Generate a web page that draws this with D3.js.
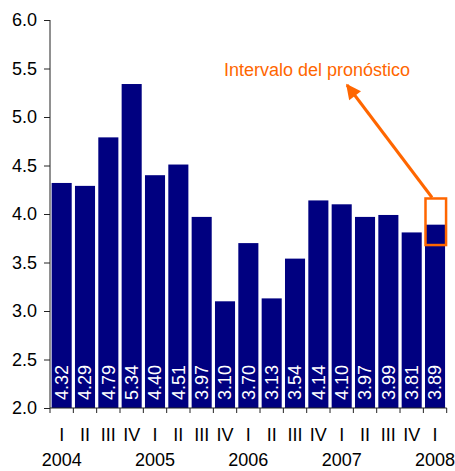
<!DOCTYPE html>
<html>
<head>
<meta charset="utf-8">
<script src="https://cdn.jsdelivr.net/npm/d3@7"></script>
<style>
  html, body { margin: 0; padding: 0; background: #fff; }
  svg { display: block; font-family: "Liberation Sans", Arial, sans-serif; }
</style>
</head>
<body>
<svg id="chart" width="455" height="471"></svg>
<script>
// ---- data ----
const quarters = ["I","II","III","IV","I","II","III","IV","I","II","III","IV","I","II","III","IV","I"];
const years = ["2004","2004","2004","2004","2005","2005","2005","2005","2006","2006","2006","2006","2007","2007","2007","2007","2008"];
const values = [4.32, 4.29, 4.79, 5.34, 4.40, 4.51, 3.97, 3.10, 3.70, 3.13, 3.54, 4.14, 4.10, 3.97, 3.99, 3.81, 3.89];
const yTicks = [2.0, 2.5, 3.0, 3.5, 4.0, 4.5, 5.0, 5.5, 6.0];
const forecastInterval = [3.68, 4.16];      // low, high for last bar
const annotationText = "Intervalo del pronóstico";

// ---- layout ----
const svg = d3.select("#chart");
const pLeft = 50, pRight = 446.7, pTop = 20, pBottom = 408;
const ids = values.map((v, i) => i);

const x = d3.scaleBand().domain(ids).range([pLeft, pRight]).paddingInner(0.14).paddingOuter(0.07);
const y = d3.scaleLinear().domain([2, 6]).range([pBottom, pTop]);
const orange = "#FF6600";
const navy = "#000080";

// bars
svg.append("g").selectAll("rect").data(values).join("rect")
  .attr("x", (d, i) => x(i))
  .attr("y", d => y(d))
  .attr("width", x.bandwidth())
  .attr("height", d => y(2) - y(d))
  .attr("fill", navy);

// value labels (rotated, white)
svg.append("g").selectAll("text").data(values).join("text")
  .attr("transform", (d, i) => `translate(${x(i) + x.bandwidth() / 2},${pBottom - 8}) rotate(-90)`)
  .attr("dy", "0.35em")
  .attr("fill", "#fff")
  .attr("font-size", 18)
  .attr("text-anchor", "start")
  .text(d => d.toFixed(2));

// y axis
const yAxis = d3.axisLeft(y).tickValues(yTicks).tickFormat(d3.format(".1f")).tickSize(6).tickPadding(7);
const gy = svg.append("g").attr("transform", `translate(${pLeft},0)`).call(yAxis);
gy.select(".domain").attr("stroke", "#222").attr("d", `M0,${pTop}V${pBottom}`);
gy.selectAll(".tick line").attr("stroke", "#222");
gy.selectAll(".tick text").attr("font-size", 18).attr("fill", "#000")
  .attr("font-family", "Liberation Sans, Arial, sans-serif");

// x axis line + boundary ticks
const gx = svg.append("g");
gx.append("line").attr("x1", pLeft).attr("x2", pRight).attr("y1", pBottom).attr("y2", pBottom).attr("stroke", "#222");
const step = x.step();
const bounds = ids.map(i => x(i) - step * x.paddingInner() / 2).concat([x(ids.length - 1) + x.bandwidth() + step * x.paddingInner() / 2]);
gx.selectAll("line.tk").data(bounds).join("line").attr("class", "tk")
  .attr("x1", d => d).attr("x2", d => d).attr("y1", pBottom).attr("y2", pBottom + 5).attr("stroke", "#222");

// quarter labels
gx.selectAll("text.q").data(quarters).join("text").attr("class", "q")
  .attr("x", (d, i) => x(i) + x.bandwidth() / 2)
  .attr("y", 441)
  .attr("text-anchor", "middle")
  .attr("font-size", 18)
  .attr("fill", "#000")
  .text(d => d);

// year labels (under first quarter of each year)
const yearIdx = ids.filter(i => quarters[i] === "I");
gx.selectAll("text.yr").data(yearIdx).join("text").attr("class", "yr")
  .attr("x", i => x(i) + x.bandwidth() / 2)
  .attr("y", 466)
  .attr("text-anchor", "middle")
  .attr("font-size", 18)
  .attr("fill", "#000")
  .text(i => years[i]);

// forecast interval box
const last = ids.length - 1;
const bx = x(last) + 0.5, bw = x.bandwidth() + 0.5;
svg.append("rect")
  .attr("x", bx).attr("y", y(forecastInterval[1]))
  .attr("width", bw).attr("height", y(forecastInterval[0]) - y(forecastInterval[1]))
  .attr("fill", "none").attr("stroke", orange).attr("stroke-width", 2.5);

// arrow
const defs = svg.append("defs");
defs.append("marker").attr("id", "ah").attr("viewBox", "0 0 10 10").attr("refX", 9).attr("refY", 5)
  .attr("markerWidth", 5.5).attr("markerHeight", 5).attr("orient", "auto").attr("markerUnits", "strokeWidth")
  .append("path").attr("d", "M0,0L10,5L0,10z").attr("fill", orange);
const ax1 = x(last) + x.bandwidth() * 0.35, ay1 = y(forecastInterval[1]) - 1;
svg.append("line")
  .attr("x1", ax1).attr("y1", ay1)
  .attr("x2", 347).attr("y2", 85)
  .attr("stroke", orange).attr("stroke-width", 3)
  .attr("marker-end", "url(#ah)");

// annotation text
svg.append("text")
  .attr("x", 317).attr("y", 76)
  .attr("text-anchor", "middle")
  .attr("font-size", 18)
  .attr("fill", orange)
  .text(annotationText);
</script>
</body>
</html>
